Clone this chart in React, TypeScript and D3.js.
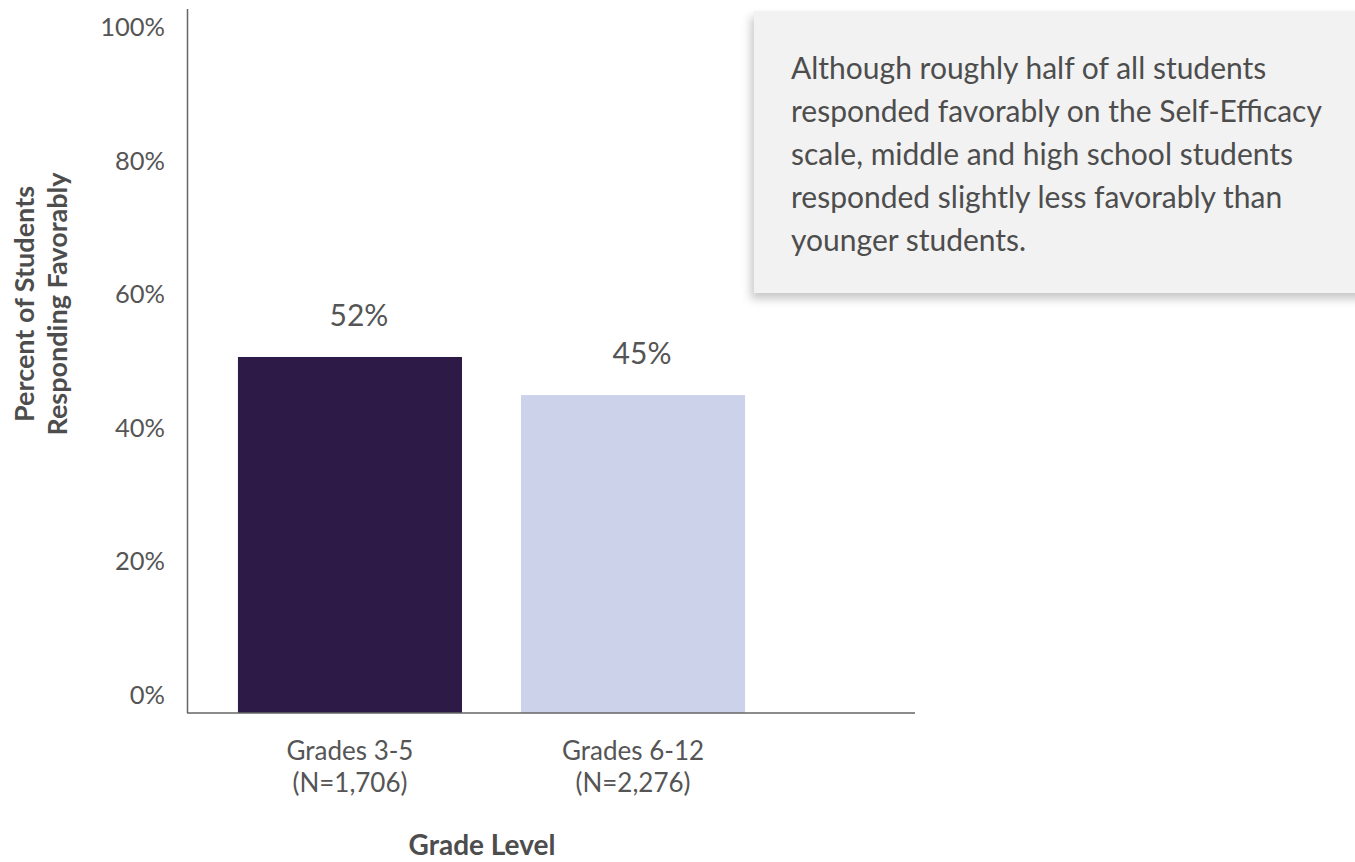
import React from "react";
import * as d3 from "d3";

const categories = ["Grades 3-5", "Grades 6-12"];
const sampleSizes = ["(N=1,706)", "(N=2,276)"];
const barValues = [50.6, 44.9];
const valueLabels = ["52%", "45%"];
const barColors = ["#2e1a47", "#cdd2eb"];
const yTicks = [0, 20, 40, 60, 80, 100];
const annotationLines = [
  "Although roughly half of all students",
  "responded favorably on the Self-Efficacy",
  "scale, middle and high school students",
  "responded slightly less favorably than",
  "younger students.",
];
const yTitleLines = ["Percent of Students", "Responding Favorably"];
const xTitle = "Grade Level";

const W = 1355;
const H = 862;
const FONT = "Lato, 'Open Sans', sans-serif";
const TEXT = "#555555";

export default function App() {
  const x = d3
    .scaleBand<string>()
    .domain(categories)
    .range([187, 796])
    .paddingInner(0.2085)
    .paddingOuter(0.18);
  const y = d3.scaleLinear().domain([0, 100]).range([695, 27]);
  const baseline = 713;

  return (
    <div style={{ position: "absolute", left: 0, top: 0 }}>
      <svg width={W} height={H} style={{ display: "block", fontFamily: FONT }}>
        <defs>
          <filter id="shadow" x="-10%" y="-10%" width="130%" height="140%">
            <feDropShadow dx="-3" dy="6" stdDeviation="5" floodColor="#000" floodOpacity="0.22" />
          </filter>
        </defs>
        <rect x={0} y={0} width={W} height={H} fill="#fff" />

        {/* annotation box */}
        <rect x={754} y={11} width={640} height={282} fill="#f2f2f2" filter="url(#shadow)" />
        <g fill="#4d4d4d" fontSize={30}>
          {annotationLines.map((t, i) => (
            <text key={i} x={791} y={79 + i * 43}>
              {t}
            </text>
          ))}
        </g>

        {/* bars */}
        {categories.map((c, i) => (
          <rect
            key={c}
            x={x(c)}
            y={y(barValues[i])}
            width={x.bandwidth()}
            height={baseline - y(barValues[i])}
            fill={barColors[i]}
          />
        ))}

        {/* value labels */}
        {categories.map((c, i) => (
          <text
            key={c}
            x={(x(c) as number) + x.bandwidth() / 2 + 9}
            y={y(barValues[i]) - 31}
            textAnchor="middle"
            fontSize={30}
            fill={TEXT}
          >
            {valueLabels[i]}
          </text>
        ))}

        {/* axes */}
        <line x1={187.5} y1={9} x2={187.5} y2={baseline} stroke="#666" strokeWidth={1.5} />
        <line x1={187} y1={baseline} x2={915} y2={baseline} stroke="#666" strokeWidth={1.5} />

        {/* y ticks */}
        {yTicks.map((t) => (
          <text key={t} x={165} y={y(t) + 9} textAnchor="end" fontSize={25.5} fill={TEXT}>
            {t}%
          </text>
        ))}

        {/* category labels */}
        {categories.map((c, i) => (
          <g key={c} fontSize={26} fill={TEXT} textAnchor="middle">
            <text x={(x(c) as number) + x.bandwidth() / 2} y={760}>
              {c}
            </text>
            <text x={(x(c) as number) + x.bandwidth() / 2} y={792}>
              {sampleSizes[i]}
            </text>
          </g>
        ))}

        {/* axis titles */}
        <text x={482} y={855} textAnchor="middle" fontSize={28} fontWeight="bold" fill="#4d4d4d">
          {xTitle}
        </text>
        <g transform="translate(0,304) rotate(-90)" fontSize={27} fontWeight="bold" fill="#4d4d4d" textAnchor="middle">
          {yTitleLines.map((t, i) => (
            <text key={i} x={0} y={34 + i * 33}>
              {t}
            </text>
          ))}
        </g>
      </svg>
    </div>
  );
}
